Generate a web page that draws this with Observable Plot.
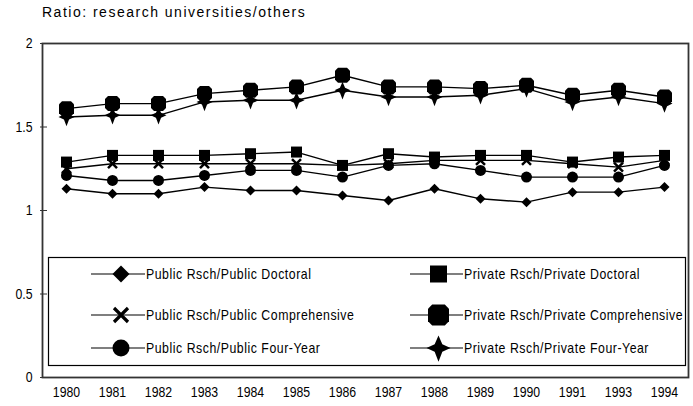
<!DOCTYPE html>
<html><head><meta charset="utf-8">
<script src="https://cdn.jsdelivr.net/npm/d3@7"></script>
<script src="https://cdn.jsdelivr.net/npm/@observablehq/plot@0.6"></script>
<style>
body{margin:0;background:#fff;}
#chart{position:relative;width:693px;height:406px;}
#title{position:absolute;left:42px;top:4px;font:14px "Liberation Sans",Arial,sans-serif;letter-spacing:1.5px;color:#000;}
</style></head><body><div id="chart"><div id="title">Ratio: research universities/others</div></div>
<script>
const years = ["1980","1981","1982","1983","1984","1985","1986","1987","1988","1989","1990","1991","1993","1994"];
const yTicks = [0, 0.5, 1, 1.5, 2];
const seriesNames = ["Public Rsch/Public Doctoral","Public Rsch/Public Comprehensive","Public Rsch/Public Four-Year","Private Rsch/Private Doctoral","Private Rsch/Private Comprehensive","Private Rsch/Private Four-Year"];
const publicDoctoral       = [1.13,1.10,1.10,1.14,1.12,1.12,1.09,1.06,1.13,1.07,1.05,1.11,1.11,1.14];
const publicComprehensive  = [1.25,1.28,1.28,1.28,1.28,1.28,1.27,1.28,1.30,1.30,1.30,1.28,1.26,1.30];
const publicFourYear       = [1.21,1.18,1.18,1.21,1.24,1.24,1.20,1.27,1.28,1.24,1.20,1.20,1.20,1.27];
const privateDoctoral      = [1.29,1.33,1.33,1.33,1.34,1.35,1.27,1.34,1.32,1.33,1.33,1.29,1.32,1.33];
const privateComprehensive = [1.61,1.64,1.64,1.70,1.72,1.74,1.81,1.74,1.74,1.73,1.75,1.69,1.72,1.68];
const privateFourYear      = [1.56,1.57,1.57,1.65,1.66,1.66,1.72,1.68,1.68,1.69,1.73,1.65,1.68,1.64];
const seriesValues = [publicDoctoral, publicComprehensive, publicFourYear, privateDoctoral, privateComprehensive, privateFourYear];

// custom marker shapes; size = PI*r^2
const rOf = size => Math.sqrt(size / Math.PI);
const symDiamond = {draw(c, size){const s=rOf(size); c.moveTo(0,-s); c.lineTo(s,0); c.lineTo(0,s); c.lineTo(-s,0); c.closePath();}};
const symTimes = {draw(c, size){const s=rOf(size); c.moveTo(-s,-s); c.lineTo(s,s); c.moveTo(s,-s); c.lineTo(-s,s);}};
const symCircle = {draw(c, size){const s=rOf(size); c.moveTo(s,0); c.arc(0,0,s,0,2*Math.PI);}};
const symSquare = {draw(c, size){const s=rOf(size); c.rect(-s,-s,2*s,2*s);}};
const symOct = {draw(c, size){const s=rOf(size), k=s*0.4; c.moveTo(-s+k,-s); c.lineTo(s-k,-s); c.lineTo(s,-s+k); c.lineTo(s,s-k); c.lineTo(s-k,s); c.lineTo(-s+k,s); c.lineTo(-s,s-k); c.lineTo(-s,-s+k); c.closePath();}};
const symStar = {draw(c, size){const s=rOf(size), i=s*0.32; c.moveTo(0,-s*1.05); c.lineTo(i,-i); c.lineTo(s,0); c.lineTo(i,i); c.lineTo(0,s*1.15); c.lineTo(-i,i); c.lineTo(-s,0); c.lineTo(-i,-i); c.closePath();}};

const styles = [
  {sym: symDiamond, r: 5,   lr: 8.5, stroke: false},
  {sym: symTimes,   r: 4.5, lr: 7,   stroke: true, sw: 2.5, lsw: 3.2},
  {sym: symCircle,  r: 5.5, lr: 8.5, stroke: false},
  {sym: symSquare,  r: 5.5, lr: 8.5, stroke: false},
  {sym: symOct,     r: 7.5, lr: 10.5, stroke: false},
  {sym: symStar,    r: 8,   lr: 12,  stroke: false}
];

const data = [];
seriesNames.forEach((name, si) => years.forEach((yr, i) => data.push({series: name, si, year: yr, value: seriesValues[si][i]})));

const font = '"Liberation Sans", Arial, sans-serif';
const marks = [
  Plot.frame({stroke: "#333", strokeWidth: 1.8}),
  Plot.axisY({ticks: yTicks, tickSize: 7, tickPadding: 8, dx: 5, tickFormat: d => String(d), fontSize: 15, stroke: "#333", label: null}),
  Plot.axisX({tickSize: 0, tickPadding: 9, fontSize: 15, label: null}),
];
seriesNames.forEach((name, si) => {
  const d = data.filter(r => r.si === si);
  marks.push(Plot.line(d, {x: "year", y: "value", stroke: "#000", strokeWidth: 1.4}));
});
seriesNames.forEach((name, si) => {
  const d = data.filter(r => r.si === si);
  const st = styles[si];
  marks.push(Plot.dot(d, {x: "year", y: "value", symbol: () => st.sym, r: st.r,
    fill: st.stroke ? "none" : "#000", stroke: st.stroke ? "#000" : "none", strokeWidth: st.sw || 1}));
});

const chart = Plot.plot({
  width: 693, height: 406,
  marginLeft: 42, marginRight: 5, marginTop: 43, marginBottom: 29,
  x: {type: "point", domain: years, padding: 0.49},
  y: {domain: [0, 2]},
  symbol: {type: "identity"},
  style: {fontFamily: font, fontSize: "12px", color: "#000", background: "#fff"},
  marks
});
document.getElementById("chart").appendChild(chart);

// narrow the axis labels (the reference font is tall and condensed)
d3.select(chart).selectAll('g[aria-label="x-axis tick label"] text, g[aria-label="y-axis tick label"] text')
  .attr("transform", function(){ return (this.getAttribute("transform") || "") + " scale(0.82,1)"; });

// legend inside plot
const svg = d3.select(chart);
const lg = svg.append("g");
lg.append("rect").attr("x", 48.5).attr("y", 257.5).attr("width", 637).attr("height", 108)
  .attr("fill", "#fff").attr("stroke", "#000").attr("stroke-width", 1.2);
const cols = [{x1: 91, x2: 145, tx: 146}, {x1: 410, x2: 463, tx: 464}];
const rows = [274, 315, 348];
seriesNames.forEach((name, si) => {
  const col = cols[Math.floor(si / 3)], y = rows[si % 3], st = styles[si];
  const cx = (col.x1 + col.x2) / 2 + (si < 3 ? 3 : 2);
  lg.append("line").attr("x1", col.x1).attr("x2", col.x2).attr("y1", y).attr("y2", y).attr("stroke", "#000").attr("stroke-width", 1.2);
  lg.append("path").attr("transform", `translate(${cx},${y})`)
    .attr("d", d3.symbol().type(st.sym).size(Math.PI * st.lr * st.lr)())
    .attr("fill", st.stroke ? "none" : "#000").attr("stroke", st.stroke ? "#000" : "none").attr("stroke-width", st.lsw || 1);
  lg.append("text").attr("transform", `translate(${col.tx},${y}) scale(0.88,1)`).attr("dy", "0.35em").attr("text-anchor", "start")
    .attr("font-family", font).attr("font-size", 14).attr("letter-spacing", 0.6).attr("fill", "#000").text(name);
});
</script></body></html>
